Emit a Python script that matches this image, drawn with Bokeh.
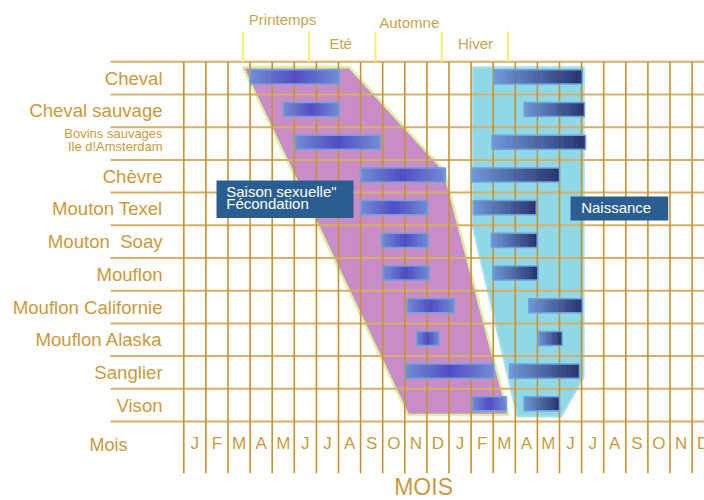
import numpy as np
from bokeh.plotting import figure
from bokeh.models import Range1d
from bokeh.core.properties import value
from bokeh.embed import file_html
from bokeh.resources import INLINE

# ---------------- data ----------------
months = ["J", "F", "M", "A", "M", "J", "J", "A", "S", "O", "N", "D"] * 2
species = ["Cheval", "Cheval sauvage", "Bovins sauvages|Ile d!Amsterdam", "Chèvre",
           "Mouton Texel", "Mouton\u00a0 Soay", "Mouflon", "Mouflon Californie",
           "Mouflon Alaska", "Sanglier", "Vison"]
# month units: 0 = 1st January of year 1, 12 = 1st January of year 2
fec_start = [3.0, 4.5, 5.05, 8.0, 8.0, 8.95, 9.0, 10.1, 10.53, 10.03, 13.05]
fec_end = [7.03, 7.03, 8.9, 11.84, 11.04, 11.06, 11.1, 12.25, 11.55, 14.03, 14.6]
nai_start = [14.03, 15.4, 13.95, 13.02, 13.1, 13.92, 13.98, 15.61, 16.04, 14.74, 15.4]
nai_end = [18.03, 18.13, 18.18, 17.0, 15.95, 15.99, 16.02, 18.03, 17.12, 17.9, 17.0]

seasons = ["Printemps", "Eté", "Automne", "Hiver"]
season_bounds = [2.67, 5.67, 8.67, 11.67, 14.67]
season_label_x = [4.47, 7.1, 10.2, 13.2]
season_label_y = [-1.28, -0.55, -1.21, -0.55]

# envelopes (month, row)
fec_env_x = [2.67, 7.5, 11.77, 14.69, 10.15]
fec_env_y = [0.17, 0.17, 3.32, 10.8, 10.8]
nai_env_x = [13.08, 18.1, 18.09, 17.08, 15.09, 13.06]
nai_env_y = [0.165, 0.165, 9.65, 10.85, 10.85, 5.0]

# ---------------- styles ----------------
FONT = value("Liberation Sans")
GOLD = "#C99A3E"
VLINE = "#C8922E"
HLINE = "#D6B06A"
n_rows = len(species)
n_months = len(months)
BAR_H = 0.43
BOX = "#2A5E90"

p = figure(width=704, height=500,
           x_range=Range1d(-8.294, 23.561), y_range=Range1d(13.416, -1.875),
           x_axis_type=None, y_axis_type=None,
           output_backend="svg", toolbar_location=None, min_border=0)
p.outline_line_color = None
p.grid.visible = False
p.background_fill_color = "white"

# envelopes
p.patch(fec_env_x, fec_env_y, fill_color="#C88CC8", line_color="#DCEFA0", line_width=2.5)
p.patch(nai_env_x, nai_env_y, fill_color="#8FD8E8", line_color="#A8E0EC", line_width=2)

# grid
p.segment(x0=[-3.317] * (n_rows + 1), x1=[n_months + 1] * (n_rows + 1),
          y0=list(range(n_rows + 1)), y1=list(range(n_rows + 1)),
          line_color=HLINE, line_width=2)
p.segment(x0=list(range(n_months + 1)), x1=list(range(n_months + 1)),
          y0=[0] * (n_months + 1), y1=[12.58] * (n_months + 1),
          line_color=VLINE, line_width=1.6)

# season ticks
p.segment(x0=season_bounds, x1=season_bounds, y0=[-0.93] * len(season_bounds),
          y1=[0] * len(season_bounds), line_color="#F6EE6E", line_width=2)
p.text(x=season_label_x, y=season_label_y, text=seasons, text_font=FONT,
       text_font_size="15px", text_color="#C6A64E", text_align="center",
       text_baseline="middle")


def mix(c1, c2, t):
    return "#%02x%02x%02x" % tuple(int(round(a + (b - a) * t)) for a, b in zip(c1, c2))


def grad_bars(starts, ends, colfn, n=28):
    L, R, T, B, C = [], [], [], [], []
    for i, (s, e) in enumerate(zip(starts, ends)):
        c = i + 0.5 - 0.04
        w = (e - s) / n
        for j in range(n):
            L.append(s + w * j)
            R.append(s + w * (j + 1) + (0.02 if j < n - 1 else 0))
            T.append(c - BAR_H / 2)
            B.append(c + BAR_H / 2)
            C.append(colfn((j + 0.5) / n))
    p.quad(left=L, right=R, top=T, bottom=B, fill_color=C, line_color=None, fill_alpha=0.9)
    cs = [i + 0.5 - 0.04 for i in range(len(starts))]
    p.quad(left=starts, right=ends, top=[c - BAR_H / 2 for c in cs],
           bottom=[c + BAR_H / 2 for c in cs], fill_color=None,
           line_color="#6EA2DA", line_width=1.5)


edge_c = (106, 140, 212)
mid_c = (70, 70, 198)
grad_bars(fec_start, fec_end, lambda t: mix(edge_c, mid_c, 1 - abs(2 * t - 1)))
grad_bars(nai_start, nai_end, lambda t: mix((108, 146, 214), (30, 36, 98), t))

# row labels
lab_x, lab_y, lab_t, small_x, small_y, small_t = [], [], [], [], [], []
for i, s in enumerate(species):
    if "|" in s:
        a, b = s.split("|")
        small_x += [-0.96, -0.96]
        small_y += [i + 0.18, i + 0.58]
        small_t += [a, b]
    else:
        lab_x.append(-0.96)
        lab_y.append(i + 0.5)
        lab_t.append(s)
p.text(x=lab_x, y=lab_y, text=lab_t, text_font=FONT, text_font_size="18.6px",
       text_color=GOLD, text_align="right", text_baseline="middle")
p.text(x=small_x, y=small_y, text=small_t, text_font=FONT, text_font_size="13px",
       text_color=GOLD, text_align="right", text_baseline="middle")

# month labels
p.text(x=[k + 0.5 for k in range(n_months)], y=[11.66] * n_months, text=months,
       text_font=FONT, text_font_size="17px", text_color=GOLD, text_align="center",
       text_baseline="middle")
p.text(x=[-3.41], y=[11.73], text=["Mois"], text_font=FONT, text_font_size="18px",
       text_color=GOLD, text_align="center", text_baseline="middle")
p.text(x=[10.85], y=[12.99], text=["MOIS"], text_font=FONT, text_font_size="23px",
       text_color=GOLD, text_align="center", text_baseline="middle")

# boxes
p.quad(left=[1.48, 17.5], right=[7.68, 21.92], top=[3.63, 4.12], bottom=[4.78, 4.85],
       fill_color=BOX, line_color=None)
p.text(x=[1.92, 1.92, 17.98], y=[3.96, 4.34, 4.45],
       text=["Saison sexuelle\"", "Fécondation", "Naissance"], text_font=FONT,
       text_font_size="15px", text_color="white", text_align="left",
       text_baseline="middle")

open("out.html", "w").write(file_html(p, INLINE))
